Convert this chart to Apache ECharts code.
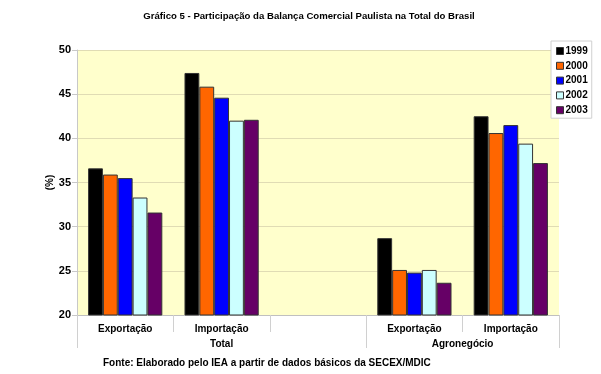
<!DOCTYPE html>
<html><head><meta charset="utf-8">
<script src="https://cdn.jsdelivr.net/npm/echarts@6/dist/echarts.min.js"></script>
<style>html,body{margin:0;padding:0;background:#fff}#c{width:601px;height:374px}</style>
</head><body><div id="c"></div>
<script>
var categories = ['Exportação', 'Importação', '', 'Exportação', 'Importação'];
var groupNames = ['Total', 'Agronegócio'];
var groupSpans = [3, 2];
var years = ['1999', '2000', '2001', '2002', '2003'];
var colors = ['#000000', '#FF6600', '#0000FF', '#CCFFFF', '#660066'];
var v1999 = [36.6, 47.4, null, 28.7, 42.5];
var v2000 = [35.9, 45.85, null, 25.1, 40.6];
var v2001 = [35.5, 44.6, null, 24.8, 41.5];
var v2002 = [33.3, 42.0, null, 25.1, 39.4];
var v2003 = [31.6, 42.1, null, 23.65, 37.2];
var yTicks = [20, 25, 30, 35, 40, 45, 50];
var title = 'Gráfico 5 - Participação da Balança Comercial Paulista na Total do Brasil';
var source = 'Fonte: Elaborado pelo IEA a partir de dados básicos da SECEX/MDIC';
var yName = '(%)';

var seriesValues = [v1999, v2000, v2001, v2002, v2003];
var FONT = 'Liberation Sans, Arial, sans-serif';

// half-category points for group axis
var nHalf = categories.length * 2 + 1;
var groupLabels = [];
for (var i = 0; i < nHalf; i++) groupLabels.push('');
var groupBounds = [0];
var acc = 0;
for (var g = 0; g < groupNames.length; g++) {
  groupLabels[acc * 2 + groupSpans[g]] = groupNames[g];
  acc += groupSpans[g];
  groupBounds.push(acc * 2);
}

var chart = echarts.init(document.getElementById('c'), null, {renderer: 'canvas'});
chart.setOption({
  animation: false,
  backgroundColor: '#ffffff',
  textStyle: {fontFamily: FONT},
  title: [{
    text: title, left: 304, top: 6, textAlign: 'center',
    textStyle: {fontFamily: FONT, fontSize: 9.6, fontWeight: 'bold', color: '#000'}
  }, {
    text: source, left: 98, top: 353,
    textStyle: {fontFamily: FONT, fontSize: 10, fontWeight: 'bold', color: '#000'}
  }],
  legend: {
    orient: 'vertical', left: 551, top: 41,
    width: 40,
    padding: [5, 4, 3, 5],
    itemWidth: 7, itemHeight: 7, itemGap: 4.8,
    backgroundColor: '#ffffff', borderColor: '#d0d0d0', borderWidth: 1,
    icon: 'rect',
    itemStyle: {borderColor: '#333333', borderWidth: 1},
    textStyle: {fontFamily: FONT, fontSize: 10, fontWeight: 'bold', color: '#000', padding: [0, 0, 0, -3]},
    data: years
  },
  grid: {left: 77, right: 42, top: 50, bottom: 59, show: true, backgroundColor: '#FFFFCC', borderWidth: 0},
  xAxis: [{
    type: 'category', data: categories, position: 'bottom',
    axisLine: {show: true, lineStyle: {color: '#c0c0c0', width: 1}},
    axisTick: {show: true, length: 17, lineStyle: {color: '#d0d0d0'}},
    axisLabel: {interval: 0, margin: 9, fontFamily: FONT, fontSize: 10, fontWeight: 'bold', color: '#000'},
    splitLine: {show: false}
  }, {
    type: 'category', data: groupLabels, position: 'bottom', offset: 17, boundaryGap: false,
    axisLine: {show: false},
    axisTick: {show: true, length: 16, interval: function (idx) { return groupBounds.indexOf(idx) >= 0; }, lineStyle: {color: '#d0d0d0'}},
    axisLabel: {interval: 0, margin: 7, fontFamily: FONT, fontSize: 10, fontWeight: 'bold', color: '#000'},
    splitLine: {show: false}
  }],
  yAxis: {
    type: 'value', min: yTicks[0], max: yTicks[yTicks.length - 1], interval: 5,
    name: yName, nameLocation: 'middle', nameGap: 22, nameRotate: 90, nameMoveOverlap: false,
    nameTextStyle: {fontFamily: FONT, fontSize: 10, fontWeight: 'bold', color: '#000'},
    axisLine: {show: true, lineStyle: {color: '#c8c8c8'}},
    axisTick: {show: true, length: 5, lineStyle: {color: '#c8c8c8'}},
    axisLabel: {margin: 6, fontFamily: FONT, fontSize: 11, fontWeight: 'bold', color: '#000'},
    splitLine: {show: true, lineStyle: {color: '#e0dcb4', width: 1}}
  },
  series: years.map(function (y, k) {
    return {
      name: y, type: 'bar', xAxisIndex: 0, data: seriesValues[k],
      barGap: '0%', barCategoryGap: '23%',
      itemStyle: {color: colors[k], borderColor: '#333333', borderWidth: 1}
    };
  })
});
</script></body></html>
